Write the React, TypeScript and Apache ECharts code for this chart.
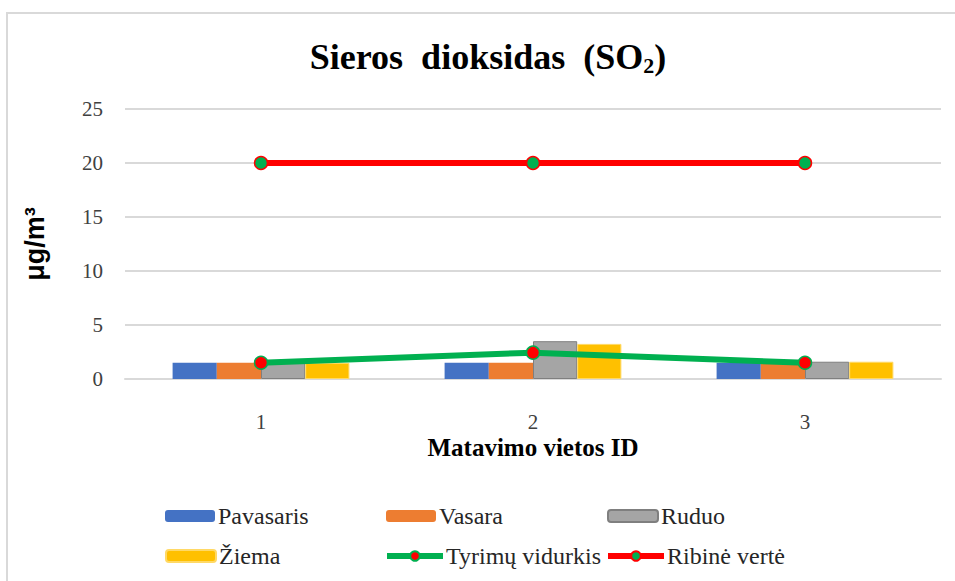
import React, { useEffect, useRef } from "react";
import * as echarts from "echarts";

const categories = ["1", "2", "3"];
const pavasaris = [1.5, 1.5, 1.5];
const vasara = [1.5, 1.5, 1.5];
const ruduo = [1.5, 3.5, 1.6];
const ziema = [1.5, 3.25, 1.6];
const vidurkis = [1.5, 2.44, 1.5];
const ribine = [20, 20, 20];
const yTicks = { min: 0, max: 25, interval: 5 };

const SERIF = "Liberation Serif";
const SANS = "Liberation Sans";

export default function App() {
  const ref = useRef<HTMLDivElement>(null);
  useEffect(() => {
    if (!ref.current) return;
    const chart = echarts.init(ref.current, null, { renderer: "svg" });
    const mkLegend = (name: string, left: number, top: number, line: boolean) => ({
      data: [name],
      left,
      top,
      itemWidth: line ? 56 : 50,
      itemHeight: 12,
      itemGap: 0,
      padding: 0,
      lineStyle: line ? { width: 6 } : undefined,
      textStyle: {
        fontFamily: SERIF,
        fontSize: 24,
        color: "#262626",
        padding: [0, 0, 0, -2],
      },
      selectedMode: false,
    });
    const barBase = { type: "bar", barGap: "0%", barCategoryGap: "35%" };
    chart.setOption({
      animation: false,
      backgroundColor: "#ffffff",
      textStyle: { fontFamily: SERIF },
      graphic: [
        {
          type: "rect",
          shape: { x: 7, y: 13, width: 1000, height: 700 },
          style: { fill: "none", stroke: "#d9d9d9", lineWidth: 2 },
          silent: true,
        },
        {
          type: "text",
          x: 488,
          y: 57,
          style: {
            text: "{a|Sieros  dioksidas  (SO}{b|2}{a|)}",
            textAlign: "center",
            textVerticalAlign: "middle",
            rich: {
              a: { fontFamily: SERIF, fontSize: 36, fontWeight: "bold", fill: "#000" },
              b: { fontFamily: SERIF, fontSize: 22, fontWeight: "bold", fill: "#000", padding: [16, 0, 0, 0] },
            },
          },
        },
      ],
      grid: { left: 125, right: 14, top: 109, bottom: 202, containLabel: false },
      xAxis: {
        type: "category",
        data: categories,
        name: "Matavimo vietos ID",
        nameLocation: "middle",
        nameGap: 56,
        nameTextStyle: { fontFamily: SERIF, fontSize: 25, fontWeight: "bold", color: "#000" },
        axisLine: { lineStyle: { color: "#d9d9d9", width: 2 } },
        axisTick: { show: false },
        axisLabel: { fontFamily: SERIF, fontSize: 21, color: "#404040", margin: 32 },
      },
      yAxis: {
        type: "value",
        min: yTicks.min,
        max: yTicks.max,
        interval: yTicks.interval,
        name: "μg/m³",
        nameLocation: "middle",
        nameGap: 77,
        nameTextStyle: { fontFamily: SANS, fontSize: 27, fontWeight: "bold", color: "#000" },
        axisLine: { show: false },
        axisTick: { show: false },
        splitLine: { lineStyle: { color: "#d9d9d9", width: 2 } },
        axisLabel: { fontFamily: SERIF, fontSize: 21, color: "#404040", margin: 22 },
      },
      legend: [
        mkLegend("Pavasaris", 165, 504, false),
        mkLegend("Vasara", 386, 504, false),
        mkLegend("Ruduo", 607, 504, false),
        mkLegend("Žiema", 165, 544, false),
        mkLegend("Tyrimų vidurkis", 384, 544, true),
        mkLegend("Ribinė vertė", 605, 544, true),
      ],
      series: [
        { ...barBase, name: "Pavasaris", data: pavasaris, itemStyle: { color: "#4472C4" } },
        { ...barBase, name: "Vasara", data: vasara, itemStyle: { color: "#ED7D31" } },
        {
          ...barBase,
          name: "Ruduo",
          data: ruduo,
          itemStyle: { color: "#A5A5A5", borderColor: "#7f7f7f", borderWidth: 1 },
        },
        {
          ...barBase,
          name: "Žiema",
          data: ziema,
          itemStyle: { color: "#FFC000", borderColor: "#FFD966", borderWidth: 1 },
        },
        {
          type: "line",
          name: "Tyrimų vidurkis",
          data: vidurkis,
          z: 5,
          symbol: "circle",
          symbolSize: 13,
          lineStyle: { color: "#00B050", width: 6 },
          itemStyle: { color: "#FF0000", borderColor: "#00B050", borderWidth: 1.5 },
        },
        {
          type: "line",
          name: "Ribinė vertė",
          data: ribine,
          z: 5,
          symbol: "circle",
          symbolSize: 13,
          lineStyle: { color: "#FF0000", width: 6 },
          itemStyle: { color: "#00B050", borderColor: "#FF0000", borderWidth: 1.5 },
        },
      ],
    });
    return () => chart.dispose();
  }, []);
  return (
    <div
      ref={ref}
      style={{ position: "fixed", left: 0, top: 0, width: 955, height: 581 }}
    />
  );
}
